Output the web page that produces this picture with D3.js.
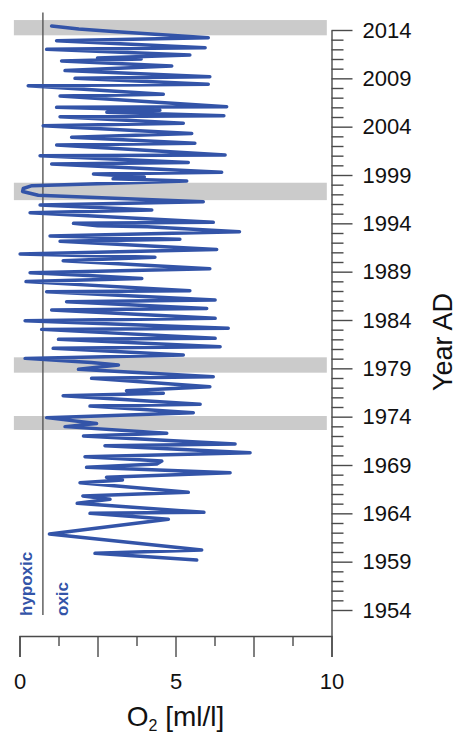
<!DOCTYPE html>
<html>
<head>
<meta charset="utf-8">
<script src="https://cdn.jsdelivr.net/npm/d3@7"></script>
<style>
  body { margin: 0; background: #fff; }
  svg { display: block; font-family: "Liberation Sans", Arial, sans-serif; }
  .axis path, .axis line { stroke: #4a4a4a; stroke-width: 1.4; }
  .axis text { fill: #111; }
</style>
</head>
<body>
<svg id="chart" width="459" height="736"></svg>
<script>
// O2 turning points (year AD, ml/l)
const years = [
  1959.17, 1959.86, 1960.20, 1961.86, 1963.38, 1964.00, 1964.10, 1965.04, 1965.45, 1965.80,
  1966.17, 1967.17, 1967.45, 1967.73, 1968.20, 1968.76, 1969.10, 1969.41, 1969.86, 1970.27,
  1971.00, 1971.17, 1972.00, 1972.28, 1972.97, 1973.30, 1973.90, 1974.41, 1975.10, 1975.28,
  1976.17, 1976.42, 1976.69, 1977.10, 1977.97, 1978.13, 1978.90, 1979.34, 1979.60, 1980.03,
  1980.38, 1981.07, 1981.24, 1982.00, 1982.10, 1983.03, 1983.14, 1983.93, 1984.17, 1985.03,
  1985.20, 1985.90, 1986.07, 1986.93, 1987.03, 1987.97, 1988.30, 1988.60, 1988.90, 1989.30,
  1990.13, 1990.50, 1990.83, 1991.30, 1992.15, 1992.35, 1992.70, 1993.14, 1993.65, 1993.75,
  1994.00, 1994.10, 1995.10, 1995.38, 1995.90, 1996.24, 1996.90, 1997.30, 1997.60, 1997.90,
  1998.38, 1998.60, 1998.80, 1999.10, 1999.28, 2000.14, 2000.30, 2001.00, 2001.07, 2002.10,
  2002.28, 2002.90, 2003.30, 2004.10, 2004.35, 2005.03, 2005.14, 2005.50, 2005.70, 2006.00,
  2006.07, 2007.17, 2007.35, 2008.24, 2008.38, 2009.00, 2009.17, 2009.80, 2010.28, 2010.80,
  2011.00, 2011.10, 2011.41, 2012.00, 2012.17, 2012.90, 2013.20, 2013.85, 2014.10, 2014.41
];
const o2 = [
  5.68, 2.42, 5.84, 0.96, 4.77, 2.26, 5.91, 1.85, 2.90, 2.03,
  5.41, 1.94, 3.30, 2.79, 6.75, 2.15, 4.40, 4.56, 2.10, 7.39,
  2.74, 6.91, 2.05, 4.72, 1.46, 2.47, 0.87, 5.57, 2.26, 5.79,
  1.40, 4.61, 3.43, 6.10, 2.31, 6.21, 1.89, 3.17, 2.30, 0.18,
  5.25, 1.08, 6.43, 1.25, 6.27, 0.71, 6.69, 0.18, 6.27, 1.03,
  6.00, 1.51, 6.27, 0.87, 5.46, 0.21, 3.92, 2.20, 0.34, 6.10,
  1.40, 4.34, 0.02, 6.32, 1.30, 5.14, 0.98, 7.05, 4.10, 2.50,
  1.73, 6.21, 0.34, 4.24, 0.66, 5.89, 0.60, 0.10, 0.12, 0.40,
  5.36, 3.00, 4.00, 2.37, 6.48, 1.03, 5.41, 0.66, 6.59, 1.19,
  5.62, 1.67, 5.52, 0.76, 5.25, 1.30, 6.55, 2.80, 4.50, 1.19,
  6.64, 1.30, 4.61, 0.28, 6.05, 1.78, 6.10, 1.46, 4.88, 1.35,
  3.90, 2.50, 5.46, 0.87, 5.95, 1.19, 6.05, 3.00, 1.90, 1.03
];

// shaded intervals [from, to] in years
const bandStart = [1972.62, 1978.55, 1996.40, 2013.45];
const bandEnd   = [1974.07, 1980.14, 1998.20, 2015.03];

const hypoxicLimit = 0.75;
const xMajorTicks = [0, 2.5, 5, 7.5, 10];
const xMinorTicks = [1.25, 3.75, 6.25, 8.75];
const yMajorTicks = d3.range(1954, 2015, 5);
const yMinorTicks = d3.range(1954, 2015, 1).filter(d => (d - 1954) % 5 !== 0);

const svg = d3.select("#chart");

const x = d3.scaleLinear().domain([0, 10]).range([19.5, 331.5]);
const y = d3.scaleLinear().domain([1954, 2014]).range([610, 30]);
const yBottom = 636;

// gray bands
svg.append("g")
  .selectAll("rect")
  .data(bandStart.map((s, i) => [s, bandEnd[i]]))
  .join("rect")
  .attr("x", x(-0.18))
  .attr("width", x(9.85) - x(-0.18))
  .attr("y", d => y(d[1]))
  .attr("height", d => y(d[0]) - y(d[1]))
  .attr("fill", "#cbcbcb");

// hypoxia threshold
svg.append("line")
  .attr("x1", x(hypoxicLimit)).attr("x2", x(hypoxicLimit))
  .attr("y1", 12.5).attr("y2", 615)
  .attr("stroke", "#555").attr("stroke-width", 1.4);

// O2 curve
const pts = years.map((yr, i) => [o2[i], yr]);
svg.append("path")
  .datum(pts)
  .attr("fill", "none")
  .attr("stroke", "#3354a8")
  .attr("stroke-width", 3.5)
  .attr("stroke-linejoin", "round")
  .attr("stroke-linecap", "round")
  .attr("d", d3.line().x(d => x(d[0])).y(d => y(d[1])));

// x axis
const xAxisG = svg.append("g")
  .attr("class", "axis")
  .attr("transform", `translate(0,${yBottom})`)
  .call(d3.axisBottom(x).tickValues(xMajorTicks).tickSize(21).tickPadding(16)
    .tickFormat(d => d % 5 === 0 ? d : ""));
xAxisG.selectAll("text").attr("font-size", 22);
svg.append("g")
  .attr("class", "axis")
  .attr("transform", `translate(0,${yBottom})`)
  .call(d3.axisBottom(x).tickValues(xMinorTicks).tickSize(10).tickFormat(""))
  .select(".domain").remove();

// y axis (right side)
const yFull = y.copy().domain([y.invert(yBottom), 2014]).range([yBottom, 30]);
const yAxisG = svg.append("g")
  .attr("class", "axis")
  .attr("transform", `translate(${x(10)},0)`)
  .call(d3.axisRight(yFull).tickValues(yMajorTicks).tickSize(21).tickSizeOuter(0)
    .tickPadding(10).tickFormat(d3.format("d")));
yAxisG.selectAll("text").attr("font-size", 22);
svg.append("g")
  .attr("class", "axis")
  .attr("transform", `translate(${x(10)},0)`)
  .call(d3.axisRight(yFull).tickValues(yMinorTicks).tickSize(12).tickFormat(""))
  .select(".domain").remove();

// axis titles
const xTitle = svg.append("text")
  .attr("x", x(5)).attr("y", 726)
  .attr("text-anchor", "middle")
  .attr("font-size", 28)
  .attr("fill", "#111");
xTitle.append("tspan").text("O");
xTitle.append("tspan").attr("font-size", 16).attr("dy", 5).text("2");
xTitle.append("tspan").attr("dy", -5).text(" [ml/l]");

svg.append("text")
  .attr("transform", "translate(452,342) rotate(-90)")
  .attr("text-anchor", "middle")
  .attr("font-size", 27)
  .attr("fill", "#111")
  .text("Year AD");

// hypoxic / oxic labels
svg.append("text")
  .attr("transform", "translate(32,616) rotate(-90)")
  .attr("font-size", 17).attr("font-weight", "bold")
  .attr("fill", "#3354a8")
  .text("hypoxic");
svg.append("text")
  .attr("transform", "translate(68,616) rotate(-90)")
  .attr("font-size", 17).attr("font-weight", "bold")
  .attr("fill", "#3354a8")
  .text("oxic");
</script>
</body>
</html>
